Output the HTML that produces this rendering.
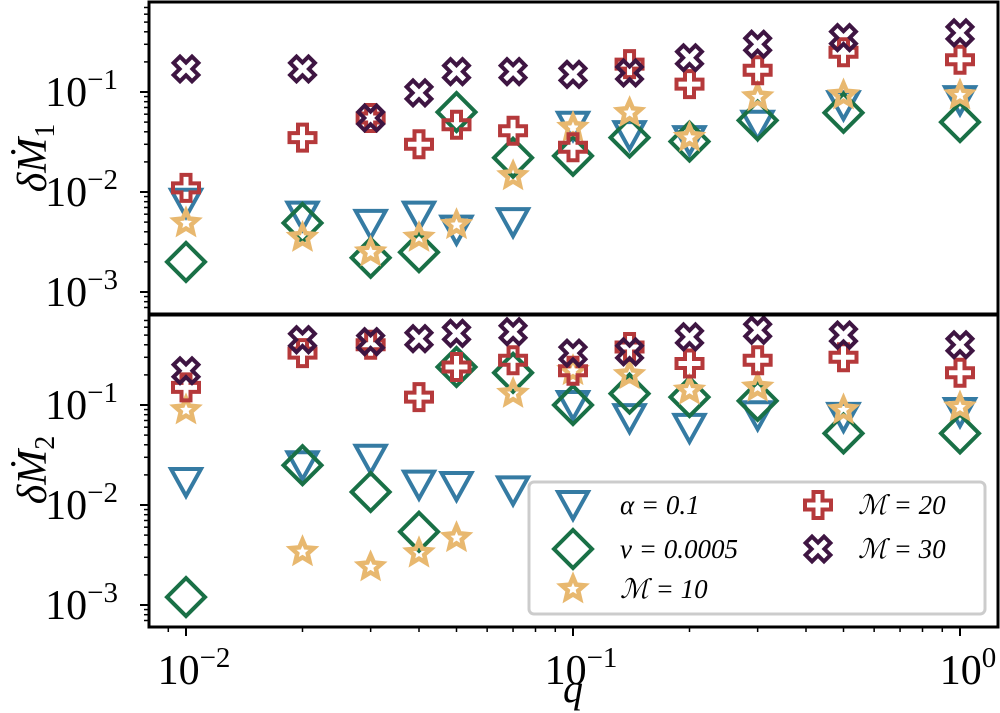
<!DOCTYPE html>
<html><head><meta charset="utf-8"><style>
html,body{margin:0;padding:0;background:#fff;}
svg{display:block;font-family:"Liberation Serif","DejaVu Serif",serif;}
</style></head><body>
<svg id="chart" width="1000" height="713" viewBox="0 0 1000 713" xmlns="http://www.w3.org/2000/svg">
<g id="marks"></g>
<g id="axes"></g>
</svg>
<script>
const qValues = [0.01,0.02,0.03,0.04,0.05,0.07,0.1,0.14,0.2,0.3,0.5,1];
const top_alpha = [0.0078,0.0058,0.0048,0.0058,0.0042,0.0050,0.046,0.037,0.033,0.047,0.074,0.083];
const top_nu    = [0.0020,0.0049,0.0022,0.0025,0.063,0.022,0.023,0.035,0.032,0.052,0.062,0.050];
const top_M10   = [0.0049,0.0035,0.0025,0.0035,0.0047,0.0145,0.044,0.062,0.035,0.089,0.093,0.093];
const top_M20   = [0.011,0.035,0.055,0.030,0.047,0.041,0.028,0.19,0.12,0.165,0.25,0.21];
const top_M30   = [0.17,0.17,0.055,0.098,0.16,0.16,0.15,0.155,0.22,0.30,0.35,0.39];
const bot_alpha = [0.017,0.025,0.029,0.016,0.0155,0.014,0.10,0.074,0.059,0.079,0.076,0.085];
const bot_nu    = [0.0012,0.025,0.0135,0.0054,0.24,0.21,0.10,0.13,0.12,0.11,0.052,0.052];
const bot_M10   = [0.089,0.0034,0.0024,0.0033,0.0047,0.13,0.22,0.20,0.14,0.15,0.089,0.095];
const bot_M20   = [0.15,0.33,0.40,0.12,0.24,0.28,0.22,0.38,0.26,0.28,0.30,0.21];
const bot_M30   = [0.22,0.45,0.43,0.46,0.52,0.54,0.33,0.34,0.48,0.56,0.50,0.40];
const xTickExps = [-2,-1,0];
const yTickExps = [-1,-2,-3];
const seriesNames = ["alpha","nu","M10","M20","M30"];
const legendLabels = ["\u03B1 = 0.1","\u03BD = 0.0005","\u2133 = 10","\u2133 = 20","\u2133 = 30"];

const NS="http://www.w3.org/2000/svg";
const colors={alpha:"#357ba3",nu:"#197046",M10:"#e8b86f",M20:"#b5393b",M30:"#3e1542"};
const L=149,R=998;
function xs(q){return 186+387*(Math.log10(q)+2);}
function ysTop(v){return 92-100*(Math.log10(v)+1);}
function ysBot(v){return 405-100*(Math.log10(v)+1);}
function mk(tag,attrs,parent){const e=document.createElementNS(NS,tag);for(const k in attrs)e.setAttribute(k,attrs[k]);parent.appendChild(e);return e;}
function markerPath(kind,cx,cy){
  if(kind==="alpha"){return `M${cx-15},${cy-13} L${cx+15},${cy-13} L${cx},${cy+14} Z`;}
  if(kind==="nu"){return `M${cx},${cy-19} L${cx+19},${cy} L${cx},${cy+19} L${cx-19},${cy} Z`;}
  if(kind==="M10"){let p="";for(let i=0;i<10;i++){const r=i%2?5.5:12;const a=-Math.PI/2+i*Math.PI/5;p+=(i?"L":"M")+(cx+r*Math.cos(a)).toFixed(1)+","+(cy+r*Math.sin(a)).toFixed(1);}return p+"Z";}
  if(kind==="M20"){const a=4.5,b=13;return `M${cx-a},${cy-b}H${cx+a}V${cy-a}H${cx+b}V${cy+a}H${cx+a}V${cy+b}H${cx-a}V${cy+a}H${cx-b}V${cy-a}H${cx-a}Z`;}
  if(kind==="M30"){let pts=[];const a=4.5,b=13;const base=[[-a,-b],[a,-b],[a,-a],[b,-a],[b,a],[a,a],[a,b],[-a,b],[-a,a],[-b,a],[-b,-a],[-a,-a]];const c=Math.SQRT1_2;for(const [x,y] of base){pts.push([(x-y)*c,(x+y)*c]);}return "M"+pts.map(p=>(cx+p[0]).toFixed(1)+","+(cy+p[1]).toFixed(1)).join("L")+"Z";}
}
const marks=document.getElementById("marks");
function drawPanel(arrs,ys,panel){
  seriesNames.forEach((s,si)=>{
    const g=mk("g",{},marks);
    
    
    arrs[si].forEach((v,i)=>{
      const p=mk("path",{d:markerPath(s,xs(qValues[i]),ys(v)),fill:"none",stroke:colors[s],"stroke-width":s==="M10"?4.5:4,"stroke-linejoin":"miter"},g);
      
      
    });
  });
}
drawPanel([top_alpha,top_nu,top_M10,top_M20,top_M30],ysTop,"top");
drawPanel([bot_alpha,bot_nu,bot_M10,bot_M20,bot_M30],ysBot,"bottom");

const axes=document.getElementById("axes");
const f1=mk("rect",{x:L,y:2,width:R-L,height:312,fill:"none",stroke:"#000","stroke-width":3},axes);

const f2=mk("rect",{x:L,y:315,width:R-L,height:312,fill:"none",stroke:"#000","stroke-width":3},axes);

function yTicks(ys,y0,y1,panel){
  for(let e=-4;e<=0;e++){for(let m=1;m<10;m++){const v=m*Math.pow(10,e);const y=ys(v);if(y<y0||y>y1)continue;
    const len=m===1?9:5;mk("line",{x1:L-len,x2:L,y1:y,y2:y,stroke:"#000","stroke-width":m===1?2:1.5},axes);}}
  yTickExps.forEach(e=>{const y=ys(Math.pow(10,e));
    const t=mk("text",{x:118,y:y+14,"text-anchor":"end","font-size":42},axes);
    t.innerHTML=`10<tspan dy="-17" font-size="29">\u2212${-e}</tspan>`;
    });
}
yTicks(ysTop,3,313,"top");yTicks(ysBot,316,626,"bottom");
for(let e=-3;e<=0;e++){for(let m=1;m<10;m++){const v=m*Math.pow(10,e);const x=xs(v);if(x<L||x>R)continue;
  const len=m===1?9:5;mk("line",{x1:x,x2:x,y1:627,y2:627+len,stroke:"#000","stroke-width":m===1?2:1.5},axes);}}
xTickExps.forEach(e=>{const x=xs(Math.pow(10,e));
  const t=mk("text",{x:x+8,y:684,"text-anchor":"middle","font-size":42},axes);
  t.innerHTML=`10<tspan dy="-17" font-size="29">${e<0?"\u2212"+(-e):"0"}</tspan>`;
  });
const xl=mk("text",{x:573,y:702,"text-anchor":"middle","font-size":40,"font-style":"italic"},axes);xl.textContent="q";

function yLabel(cy,sub,name){const t=mk("text",{transform:`translate(46,${cy}) rotate(-90)`,"text-anchor":"middle","font-size":42,"font-style":"italic"},axes);
  t.innerHTML=`\u03B4M\u0307<tspan dy="8" font-size="28" font-style="normal">${sub}</tspan>`;
  }
yLabel(158,"1","top-y-axis-title");yLabel(470,"2","bottom-y-axis-title");
const lg=mk("g",{},axes);
mk("rect",{x:529,y:482,width:456,height:132,rx:5,fill:"#fff","fill-opacity":0.85,stroke:"#ccc","stroke-width":3},lg);
const lpos=[[573,505],[573,549],[573,589],[818,505],[818,549]];
const tpos=[[620,505],[620,549],[620,589],[858,505],[858,549]];
seriesNames.forEach((s,i)=>{
  const e=mk("g",{},lg);
  mk("path",{d:markerPath(s,lpos[i][0],lpos[i][1]),fill:"none",stroke:colors[s],"stroke-width":s==="M10"?4.5:4},e);
  const t=mk("text",{x:tpos[i][0],y:tpos[i][1]+9,"font-size":27,"font-style":"italic"},e);t.textContent=legendLabels[i];
});
</script>
</body></html>
